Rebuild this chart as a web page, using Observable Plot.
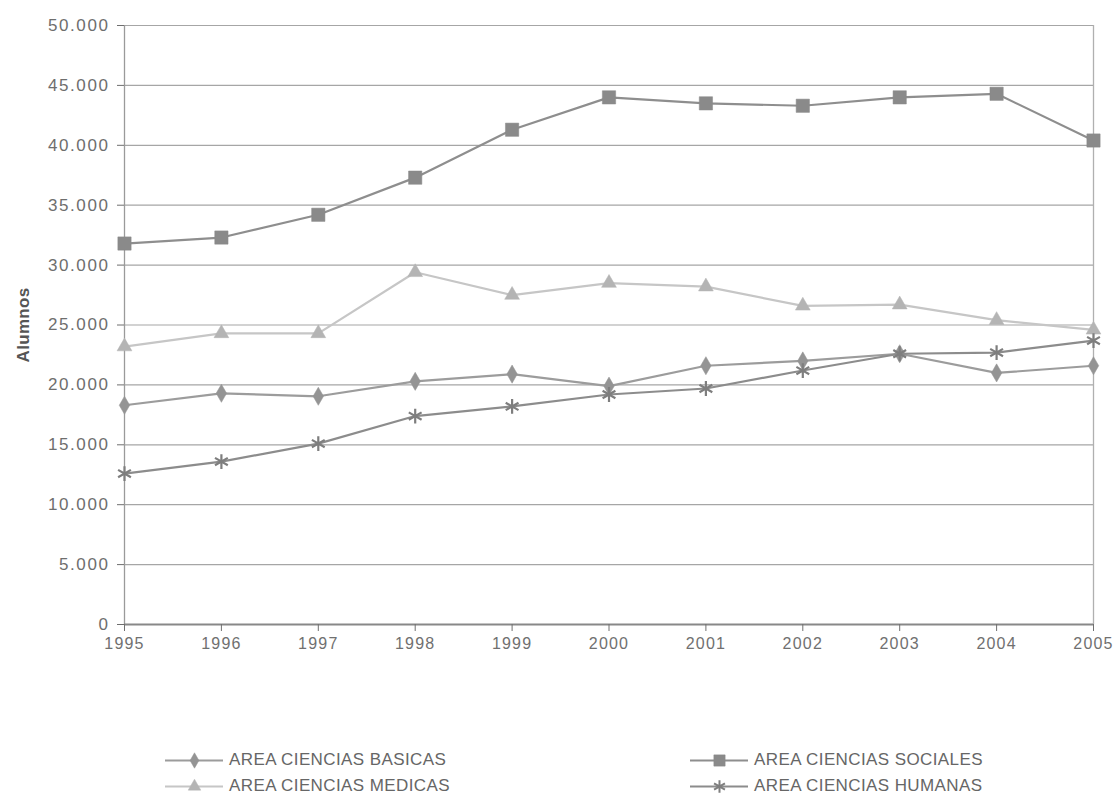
<!DOCTYPE html>
<html>
<head>
<meta charset="utf-8">
<script src="https://cdn.jsdelivr.net/npm/d3@7"></script>
<script src="https://cdn.jsdelivr.net/npm/@observablehq/plot@0.6"></script>
<style>
  html, body { margin: 0; padding: 0; background: #fff; }
  body { width: 1117px; height: 803px; overflow: hidden; font-family: "Liberation Sans", Arial, sans-serif; }
  #chart svg { display: block; }
  #chart g[aria-label="y-axis tick label"] text { letter-spacing: 1.6px; }
  #chart g[aria-label="x-axis tick label"] text { letter-spacing: 1.2px; }
  #chart g[aria-label="y-axis label"] text { font-weight: bold; fill: #555; letter-spacing: 0.3px; }
  #legend { position: relative; height: 133px; font-size: 17px; color: #666; letter-spacing: 0.4px; }
  .item { position: absolute; display: flex; align-items: center; white-space: nowrap; }
  .item svg { margin-right: 6px; }
</style>
</head>
<body>
<div id="chart"></div>
<div id="legend"></div>
<script>
const years = [1995, 1996, 1997, 1998, 1999, 2000, 2001, 2002, 2003, 2004, 2005];
const basicas  = [18300, 19300, 19050, 20300, 20900, 19900, 21600, 22000, 22600, 21000, 21600];
const sociales = [31800, 32300, 34200, 37300, 41300, 44000, 43500, 43300, 44000, 44300, 40400];
const medicas  = [23200, 24300, 24300, 29400, 27500, 28500, 28200, 26600, 26700, 25400, 24600];
const humanas  = [12600, 13600, 15100, 17400, 18200, 19200, 19700, 21200, 22600, 22700, 23700];
const yTicks = [0, 5000, 10000, 15000, 20000, 25000, 30000, 35000, 40000, 45000, 50000];
const seriesNames = ["AREA CIENCIAS BASICAS", "AREA CIENCIAS SOCIALES", "AREA CIENCIAS MEDICAS", "AREA CIENCIAS HUMANAS"];

const styles = {
  "AREA CIENCIAS BASICAS":  {values: basicas,  line: "#9c9c9c", mark: "#949494", symbol: "diamond", r: 5.5, fill: true},
  "AREA CIENCIAS SOCIALES": {values: sociales, line: "#8e8e8e", mark: "#8a8a8a", symbol: "square", r: 7.5, fill: true},
  "AREA CIENCIAS MEDICAS":  {values: medicas,  line: "#c6c6c6", mark: "#b4b4b4", symbol: "triangle", r: 5.5, fill: true},
  "AREA CIENCIAS HUMANAS":  {values: humanas,  line: "#8c8c8c", mark: "#7e7e7e", symbol: "asterisk", r: 7, fill: false}
};

const fmt = d => d === 0 ? "0" : d3.format(",")(d).replace(/,/g, ".");

const marks = [
  Plot.ruleY(yTicks, {stroke: "#a6a6a6", strokeWidth: 1.2}),
  Plot.ruleX([years[0]], {stroke: "#9a9a9a", strokeWidth: 1.3}),
  Plot.ruleX([years[years.length - 1]], {stroke: "#b0b0b0", strokeWidth: 1.3}),
  Plot.ruleY([0], {stroke: "#888", strokeWidth: 1.8}),
  Plot.axisY({ticks: yTicks, tickFormat: fmt, tickSize: 7, tickPadding: 8, fontSize: 17, color: "#6e6e6e",
    label: "Alumnos", labelAnchor: "center", labelOffset: 108, labelArrow: "none"}),
  Plot.axisX({ticks: years, tickFormat: d => String(d), tickSize: 7, tickPadding: 6, fontSize: 16, color: "#707070", label: null})
];

for (const name of seriesNames) {
  const s = styles[name];
  const data = years.map((y, i) => ({year: y, value: s.values[i]}));
  marks.push(Plot.line(data, {x: "year", y: "value", stroke: s.line, strokeWidth: 2.2}));
  marks.push(Plot.dot(data, {x: "year", y: "value", symbol: () => s.symbol, r: s.r,
    fill: s.fill ? s.mark : "none", stroke: s.mark, strokeWidth: s.fill ? 0.5 : 2.2}));
}

const chart = Plot.plot({
  width: 1117,
  height: 670,
  marginLeft: 124,
  marginRight: 24,
  marginTop: 25,
  marginBottom: 46,
  x: {domain: [years[0], years[years.length - 1]]},
  y: {domain: [0, 50000]},
  style: {fontFamily: "'Liberation Sans', Arial, sans-serif", background: "#fff"},
  marks
});
document.getElementById("chart").appendChild(chart);

// Legend
const legend = document.getElementById("legend");
const pos = [
  {left: 165, top: 80},
  {left: 690, top: 80},
  {left: 165, top: 106},
  {left: 690, top: 106}
];
const legendOrder = ["AREA CIENCIAS BASICAS", "AREA CIENCIAS SOCIALES", "AREA CIENCIAS MEDICAS", "AREA CIENCIAS HUMANAS"];
legendOrder.forEach((name, i) => {
  const s = styles[name];
  const item = document.createElement("div");
  item.className = "item";
  item.style.left = pos[i].left + "px";
  item.style.top = (pos[i].top - 670 + 670) - 670 + 670 - 670 + 670 + "px";
  const sw = Plot.plot({
    width: 58, height: 20, margin: 0,
    x: {domain: [0, 2], axis: null}, y: {domain: [0, 1], axis: null},
    marks: [
      Plot.line([{x: 0, y: 0.5}, {x: 2, y: 0.5}], {x: "x", y: "y", stroke: s.line, strokeWidth: 2}),
      Plot.dot([{x: 1, y: 0.5}], {x: "x", y: "y", symbol: () => s.symbol, r: s.r * 0.85,
        fill: s.fill ? s.mark : "none", stroke: s.mark, strokeWidth: s.fill ? 0.5 : 2})
    ]
  });
  item.appendChild(sw);
  const t = document.createElement("span");
  t.textContent = name;
  item.appendChild(t);
  legend.appendChild(item);
});
</script>
</body>
</html>
